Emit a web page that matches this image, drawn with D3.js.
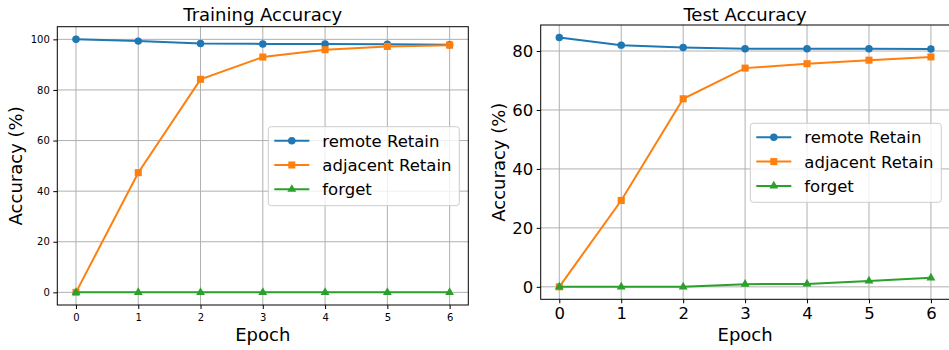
<!DOCTYPE html>
<html>
<head>
<meta charset="utf-8">
<script src="https://cdn.jsdelivr.net/npm/d3@7"></script>
<style>
  body { margin: 0; background: #fff; }
  svg { display: block; font-family: "DejaVu Sans", sans-serif; }
</style>
</head>
<body>
<svg id="vis" width="949" height="350"></svg>
<script>
const epochs = [0, 1, 2, 3, 4, 5, 6];
const seriesNames = ["remote Retain", "adjacent Retain", "forget"];
const seriesColors = ["#1f77b4", "#ff7f0e", "#2ca02c"];
const seriesMarkers = ["circle", "square", "triangle"];

const trainRemote = [100, 99.3, 98.4, 98.2, 98.2, 98.1, 97.9];
const trainAdjacent = [0, 47.3, 84.2, 93.0, 95.9, 97.2, 97.7];
const trainForget = [0, 0, 0, 0, 0, 0, 0];

const testRemote = [84.6, 82.0, 81.2, 80.8, 80.8, 80.8, 80.7];
const testAdjacent = [0, 29.3, 63.8, 74.2, 75.7, 76.9, 78.0];
const testForget = [0, 0, 0, 0.9, 1.0, 2.0, 3.05];

const trainTicks = [0, 20, 40, 60, 80, 100];
const testTicks = [0, 20, 40, 60, 80];

const svg = d3.select("#vis");

function drawPanel(opt) {
    const g = svg.append("g");
    const series = opt.series;
    const all = series.flat();
    const lo = d3.min(all), hi = d3.max(all);
    const pad = (hi - lo) * 0.05;

    const x = d3.scaleLinear().domain([-0.3, 6.3]).range([opt.left, opt.right]);
    const y = d3.scaleLinear().domain([lo - pad, hi + pad]).range([opt.bottom, opt.top]);

    // grid
    g.selectAll(".gx").data(epochs).enter().append("line")
        .attr("x1", d => x(d)).attr("x2", d => x(d))
        .attr("y1", opt.top).attr("y2", opt.bottom)
        .attr("stroke", "#b0b0b0").attr("stroke-width", 1);
    g.selectAll(".gy").data(opt.yTicks).enter().append("line")
        .attr("x1", opt.left).attr("x2", opt.right)
        .attr("y1", d => y(d)).attr("y2", d => y(d))
        .attr("stroke", "#b0b0b0").attr("stroke-width", 1);

    // lines + markers
    const line = d3.line().x((d, i) => x(epochs[i])).y(d => y(d));
    series.forEach((vals, k) => {
        const c = seriesColors[k];
        g.append("path").datum(vals).attr("d", line)
            .attr("fill", "none").attr("stroke", c).attr("stroke-width", 2);
        const sym = seriesMarkers[k] === "circle" ? d3.symbolCircle
            : seriesMarkers[k] === "square" ? d3.symbolSquare : d3.symbolTriangle;
        const size = seriesMarkers[k] === "circle" ? 44 : seriesMarkers[k] === "square" ? 50 : 34;
        g.selectAll(null).data(vals).enter().append("path")
            .attr("d", d3.symbol().type(sym).size(size))
            .attr("transform", (d, i) => `translate(${x(epochs[i])},${y(d)})`)
            .attr("fill", c);
    });

    // frame
    g.append("rect")
        .attr("x", opt.left).attr("y", opt.top)
        .attr("width", opt.right - opt.left).attr("height", opt.bottom - opt.top)
        .attr("fill", "none").attr("stroke", "#000").attr("stroke-width", 1);

    // axes
    const xAxis = g.append("g").attr("transform", `translate(0,${opt.bottom})`)
        .call(d3.axisBottom(x).tickValues(epochs).tickSize(4).tickPadding(opt.xPad).tickFormat(d3.format("d")));
    const yAxis = g.append("g").attr("transform", `translate(${opt.left},0)`)
        .call(d3.axisLeft(y).tickValues(opt.yTicks).tickSize(4).tickPadding(3.5).tickFormat(d3.format("d")));
    [xAxis, yAxis].forEach(a => {
        a.select(".domain").remove();
        a.selectAll("text").attr("font-size", opt.tickFont).attr("fill", "#000")
            .attr("font-family", "DejaVu Sans, sans-serif");
        a.selectAll("line").attr("stroke", "#000");
    });

    // title and labels
    const cx = (opt.left + opt.right) / 2;
    g.append("text").attr("x", cx).attr("y", 20.5).attr("text-anchor", "middle")
        .attr("font-size", 18).text(opt.title);
    g.append("text").attr("x", cx).attr("y", 340.7).attr("text-anchor", "middle")
        .attr("font-size", 18).text("Epoch");
    g.append("text")
        .attr("transform", `translate(${opt.yLabelX},${(opt.top + opt.bottom) / 2}) rotate(-90)`)
        .attr("text-anchor", "middle").attr("font-size", 18).text("Accuracy (%)");

    // legend
    const lg = g.append("g").attr("transform", `translate(${opt.legend[0]},${opt.legend[1]})`);
    lg.append("rect").attr("width", 191).attr("height", 79).attr("rx", 3)
        .attr("fill", "#fff").attr("fill-opacity", 0.8)
        .attr("stroke", "#cccccc").attr("stroke-width", 1);
    seriesNames.forEach((name, k) => {
        const ry = 14 + k * 24.3;
        const c = seriesColors[k];
        lg.append("line").attr("x1", 6).attr("x2", 41).attr("y1", ry).attr("y2", ry)
            .attr("stroke", c).attr("stroke-width", 2);
        const sym = seriesMarkers[k] === "circle" ? d3.symbolCircle
            : seriesMarkers[k] === "square" ? d3.symbolSquare : d3.symbolTriangle;
        const size = seriesMarkers[k] === "circle" ? 44 : seriesMarkers[k] === "square" ? 50 : 34;
        lg.append("path").attr("d", d3.symbol().type(sym).size(size))
            .attr("transform", `translate(23.5,${ry})`).attr("fill", c);
        lg.append("text").attr("x", 54).attr("y", ry).attr("dy", "0.36em")
            .attr("font-size", 16.5).text(name);
    });
}

drawPanel({
    title: "Training Accuracy",
    series: [trainRemote, trainAdjacent, trainForget],
    yTicks: trainTicks,
    left: 57.3, right: 468.3, top: 26.7, bottom: 305,
    tickFont: 10, xPad: 5, yLabelX: 21.5,
    legend: [268.3, 126.7]
});

drawPanel({
    title: "Test Accuracy",
    series: [testRemote, testAdjacent, testForget],
    yTicks: testTicks,
    left: 540.7, right: 949.5, top: 25, bottom: 299.3,
    tickFont: 16.5, xPad: 4, yLabelX: 505,
    legend: [750.3, 123.3]
});
</script>
</body>
</html>
